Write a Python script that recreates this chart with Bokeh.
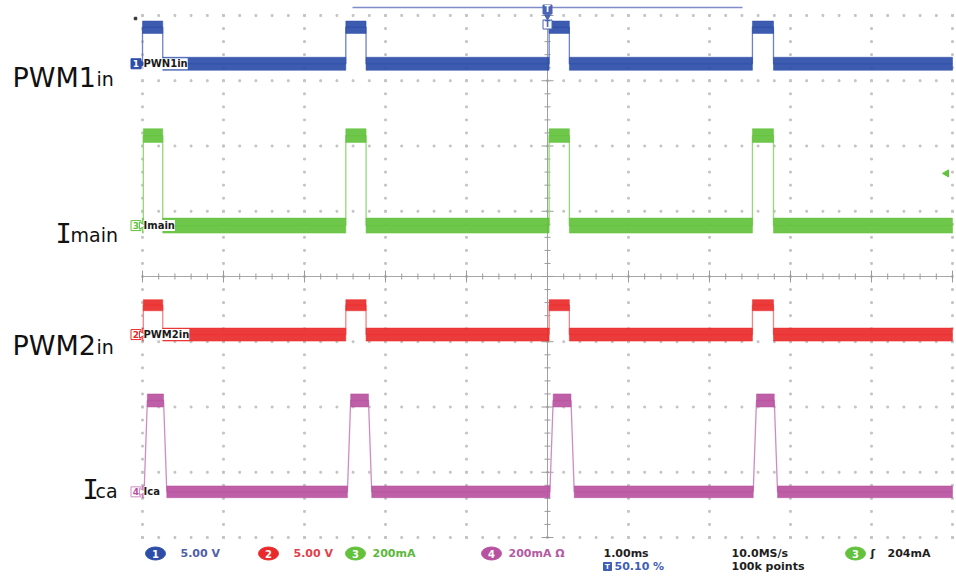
import numpy as np
from bokeh.plotting import figure
from bokeh.models import Range1d, Label
from bokeh.embed import file_html
from bokeh.resources import INLINE

# ---------------- data (time in ms, 1.00 ms/div; levels in screen divisions) -------------
T_START, T_END = -5.0, 5.0
pwm1_rise = [-5.00, -2.49, 0.02, 2.53]
pwm1_fall = [-4.75, -2.24, 0.27, 2.79]
pwm1_high, pwm1_low = 3.82, 3.26

imain_rise = [-4.99, -2.49, 0.02, 2.53]
imain_fall = [-4.75, -2.24, 0.27, 2.79]
imain_high, imain_low = 2.16, 0.78

pwm2_rise = [-4.99, -2.49, 0.02, 2.53]
pwm2_fall = [-4.75, -2.24, 0.27, 2.79]
pwm2_high, pwm2_low = -0.44, -0.89

ica_rise = [-4.98, -2.47, 0.03, 2.54]
ica_rise_end = [-4.94, -2.43, 0.07, 2.58]
ica_fall = [-4.74, -2.21, 0.29, 2.80]
ica_fall_end = [-4.70, -2.17, 0.33, 2.84]
ica_high, ica_low = -1.90, -3.30

trig_level = 1.58          # channel 3 trigger level marker (div)

status_items = ["5.00 V", "5.00 V", "200mA", "200mA \u03a9"]
status_channels = ["1", "2", "3", "4"]
timebase = "1.00ms"
trig_pos = "50.10 %"
sample_rate = "10.0MS/s"
record_len = "100k points"
trig_value = "204mA"

# ---------------- layout helpers (picture pixels -> data) ----------------
def X(px):
    return (px - 547.0) / 81.0

def Y(py):
    return (276.0 - py) / 65.25

W, H = 954, 575
BLUE, BLUE_E = "#2c4da8", "#6d82c8"
GREEN, GREEN_E = "#62c23c", "#95d878"
RED, RED_E = "#ea2a2a", "#f08585"
MAG, MAG_E = "#b8519f", "#cf8cc4"

p = figure(width=W, height=H, output_backend="svg", toolbar_location=None,
           x_range=Range1d(X(0), X(W)), y_range=Range1d(Y(H), Y(0)),
           x_axis_type=None, y_axis_type=None, min_border=0)
p.outline_line_color = None
p.grid.visible = False
p.background_fill_color = "white"

# ---------------- graticule ----------------
dot_c = "#c4c4c4"
gx, gy = [], []
for t in range(-5, 6):
    if t == 0:
        continue
    for d in np.arange(-4, 4.001, 0.2):
        gx.append(t); gy.append(d)
for d in range(-4, 5):
    if d == 0:
        continue
    for t in np.arange(-5, 5.001, 0.2):
        gx.append(t); gy.append(d)
p.scatter(gx, gy, marker="square", size=1.8, color=dot_c)

# centre cross with ticks
p.segment([-5], [0], [5], [0], line_color="#a8a8a8", line_width=1)
p.segment([0], [-4], [0], [4], line_color="#a0a0a0", line_width=1)
tt = np.arange(-5, 5.001, 0.2)
tl = np.where(np.isclose(tt, np.round(tt)), 6, 3)
p.segment(tt, -tl / 65.25, tt, tl / 65.25, line_color="#9a9a9a", line_width=1)
dd = np.arange(-4, 4.001, 0.2)
dl = np.where(np.isclose(dd, np.round(dd)), 6, 3)
p.segment(-dl / 81.0, dd, dl / 81.0, dd, line_color="#9a9a9a", line_width=1)

# ---------------- traces ----------------
def trace(rise, rise_end, fall, fall_end, hi, lo, col, ecol, band_hi, band_lo):
    xs, ys = [T_START], [lo]
    for r, re, f, fe in zip(rise, rise_end, fall, fall_end):
        xs += [r, re, f, fe]
        ys += [lo, hi, hi, lo]
    xs.append(T_END); ys.append(lo)
    p.line(xs, ys, line_color=ecol, line_width=1.3)
    ll = [T_START] + list(fall_end)
    lr = list(rise) + [T_END]
    L = [a for a, b in zip(ll, lr) if b > a]
    R = [b for a, b in zip(ll, lr) if b > a]
    p.quad(left=L, right=R, top=lo + band_lo / 2, bottom=lo - band_lo / 2,
           fill_color=col, line_color=col, line_width=0.5, fill_alpha=0.92)
    p.quad(left=rise_end, right=fall, top=hi + band_hi / 2, bottom=hi - band_hi / 2,
           fill_color=col, line_color=col, line_width=0.5, fill_alpha=0.92)

trace(pwm1_rise, pwm1_rise, pwm1_fall, pwm1_fall, pwm1_high, pwm1_low, BLUE, BLUE_E, 0.19, 0.20)
trace(imain_rise, imain_rise, imain_fall, imain_fall, imain_high, imain_low, GREEN, GREEN_E, 0.21, 0.23)
trace(pwm2_rise, pwm2_rise, pwm2_fall, pwm2_fall, pwm2_high, pwm2_low, RED, RED_E, 0.17, 0.20)
trace(ica_rise, ica_rise_end, ica_fall, ica_fall_end, ica_high, ica_low, MAG, MAG_E, 0.20, 0.18)

# ---------------- in-screen channel tags ----------------
def tag(text, level, px_left):
    p.add_layout(Label(x=X(px_left), y=level, text=text, text_font="DejaVu Sans",
                       text_font_style="bold", text_font_size="10px", text_color="#1a1a1a",
                       text_baseline="middle", background_fill_color="white",
                       background_fill_alpha=1.0))

tag("PWN1in", pwm1_low, 143)
tag("Imain", imain_low, 143)
tag("PWM2in", pwm2_low, 143)
tag("Ica", ica_low, 143)

# ground markers on left edge
def gnd(num, level, col, filled, tcol):
    p.scatter([X(135.5)], [level], marker="square", size=10,
              fill_color=col if filled else "white", line_color=col, line_width=1)
    p.scatter([X(141)], [level], marker="triangle", angle=-np.pi / 2, size=7,
              fill_color=col if filled else "white", line_color=col, line_width=1)
    p.add_layout(Label(x=X(135.5), y=level, text=num, text_font="DejaVu Sans",
                       text_font_style="bold", text_font_size="9px", text_color=tcol,
                       text_align="center", text_baseline="middle"))

gnd("1", pwm1_low, BLUE, True, "white")
gnd("3", imain_low, GREEN, False, GREEN)
gnd("2", pwm2_low, RED, False, RED)
gnd("4", ica_low, MAG_E, False, MAG)

# trigger level arrow (right edge)
p.scatter([X(946)], [trig_level], marker="triangle", angle=np.pi / 2, size=7,
          fill_color=GREEN, line_color=GREEN)

# record bar + trigger position marker at top
p.segment([X(352)], [Y(7)], [X(742)], [Y(7)], line_color="#7f8dc9", line_width=1.5)
p.scatter([0.0], [Y(9)], marker="square", size=9, fill_color="#4a64b4", line_color="#4a64b4")
p.add_layout(Label(x=0.0, y=Y(9), text="T", text_font="DejaVu Sans", text_font_style="bold",
                   text_font_size="8px", text_color="white", text_align="center",
                   text_baseline="middle"))
p.scatter([0.0], [Y(16)], marker="inverted_triangle", size=6, fill_color="#4a64b4",
          line_color="#4a64b4")
p.scatter([0.0], [Y(24)], marker="square", size=9, fill_color="white", line_color="#4a64b4")
p.add_layout(Label(x=0.0, y=Y(24), text="T", text_font="DejaVu Sans", text_font_style="bold",
                   text_font_size="8px", text_color="#4a64b4", text_align="center",
                   text_baseline="middle"))
p.scatter([X(135)], [Y(18)], marker="square", size=2.5, color="#333333")

# ---------------- big left labels ----------------
def big(main, sub, x_main, x_sub, base, main_font="DejaVu Sans"):
    p.add_layout(Label(x=X(x_main), y=Y(base), text=main, text_font=main_font,
                       text_font_size="27px", text_color="#111111", text_baseline="alphabetic"))
    p.add_layout(Label(x=X(x_sub), y=Y(base + 1), text=sub, text_font="DejaVu Sans",
                       text_font_size="19px", text_color="#111111", text_baseline="alphabetic"))

big("PWM1", "in", 12, 96, 77)
big("I", "main", 55, 70, 233, main_font="DejaVu Sans Mono")
big("PWM2", "in", 12, 96, 345)
big("I", "ca", 82, 95, 489, main_font="DejaVu Sans Mono")

# ---------------- status bar ----------------
ROW1, ROW2 = 553, 566
def oval(cx, col, num):
    p.ellipse([X(cx)], [Y(ROW1)], width=20, height=13, width_units="screen",
              height_units="screen", fill_color=col, line_color=col)
    p.add_layout(Label(x=X(cx), y=Y(ROW1), text=num, text_font="DejaVu Sans",
                       text_font_style="bold", text_font_size="10px", text_color="white",
                       text_align="center", text_baseline="middle"))

def stxt(px, row, text, col):
    p.add_layout(Label(x=X(px), y=Y(row), text=text, text_font="DejaVu Sans",
                       text_font_style="bold", text_font_size="11px", text_color=col,
                       text_baseline="middle"))

oval_x = [155, 268, 355, 491]
text_x = [180, 293, 372, 508]
oval_c = [BLUE, RED, GREEN, MAG]
text_c = ["#5060a6", "#e0404c", "#5cb83c", "#b45aa5"]
for ox, tx, oc, tc, num, txt in zip(oval_x, text_x, oval_c, text_c, status_channels, status_items):
    oval(ox, oc, num)
    stxt(tx, ROW1, txt, tc)

stxt(603, ROW1, timebase, "#1e1e1e")
p.scatter([X(607)], [Y(ROW2)], marker="square", size=8, fill_color="#3f5fb5", line_color="#3f5fb5")
p.add_layout(Label(x=X(607), y=Y(ROW2), text="T", text_font="DejaVu Sans", text_font_style="bold",
                   text_font_size="7px", text_color="white", text_align="center",
                   text_baseline="middle"))
stxt(614, ROW2, trig_pos, "#3f5fb5")
stxt(731, ROW1, sample_rate, "#1e1e1e")
stxt(731, ROW2, record_len, "#1e1e1e")
oval(855, GREEN, "3")
stxt(870, ROW1, "\u0283", "#1e1e1e")
stxt(887, ROW1, trig_value, "#1e1e1e")

open("out.html", "w").write(file_html(p, INLINE))
